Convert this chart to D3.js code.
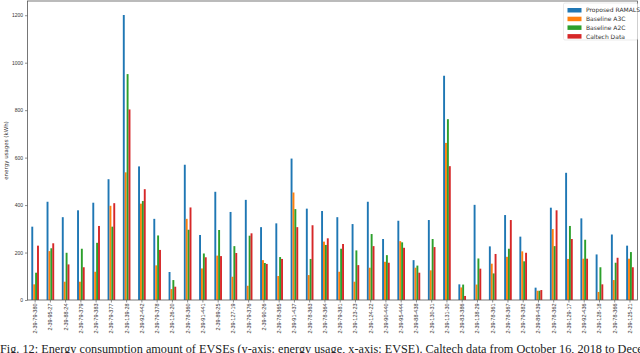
<!DOCTYPE html>
<html lang="en">
<head>
  <meta charset="UTF-8">
  <title>Energy consumption of EVSEs</title>
  <script src="https://d3js.org/d3.v7.min.js"></script>
  <style>
    body {
      margin: 0;
      background: #fff;
      overflow: hidden;
    }
    svg {
      display: block;
      font-family: "DejaVu Sans", sans-serif;
    }
    .caption {
      font-family: "Liberation Serif", "DejaVu Serif", serif;
    }
  </style>
</head>
<body>

<svg width="640" height="353"></svg>

<script>
const stations = [
  "2-39-79-380", "2-39-95-27", "2-39-88-24", "2-39-79-379", "2-39-79-383",
  "2-39-79-377", "2-39-139-28", "2-39-92-442", "2-39-79-378", "2-39-126-20",
  "2-39-78-360", "2-39-91-441", "2-39-89-25", "2-39-127-19", "2-39-79-376",
  "2-39-90-26", "2-39-78-365", "2-39-91-437", "2-39-78-363", "2-39-78-364",
  "2-39-79-381", "2-39-123-23", "2-39-124-22", "2-39-90-440", "2-39-95-444",
  "2-39-88-438", "2-39-130-31", "2-39-131-30", "2-39-83-386", "2-39-138-29",
  "2-39-78-361", "2-39-78-367", "2-39-79-382", "2-39-89-439", "2-39-78-362",
  "2-39-129-17", "2-39-92-436", "2-39-128-18", "2-39-78-366", "2-39-125-21"
];

const seriesNames = ["Proposed RAMALS", "Baseline A3C", "Baseline A2C", "Caltech Data"];
const seriesColors = ["#1f77b4", "#ff7f0e", "#2ca02c", "#d62728"];

const ramals = [
  309, 414, 349, 378, 410, 509, 1201, 563, 342, 118,
  570, 274, 456, 371, 422, 307, 323, 596, 385, 375,
  349, 320, 414, 257, 334, 168, 337, 945, 66, 401,
  226, 358, 267, 52, 389, 536, 344, 192, 276, 229
];
const a3c = [
  66, 206, 77, 77, 119, 397, 538, 406, 146, 46,
  342, 133, 187, 98, 60, 168, 101, 453, 105, 246,
  119, 77, 136, 161, 248, 136, 125, 662, 53, 65,
  153, 182, 205, 39, 299, 173, 174, 34, 84, 174
];
const a2c = [
  115, 218, 199, 216, 241, 309, 952, 417, 272, 84,
  296, 196, 295, 227, 271, 156, 181, 383, 173, 232,
  216, 209, 278, 189, 243, 145, 257, 762, 65, 175,
  112, 216, 163, 39, 227, 312, 254, 138, 157, 202
];
const caltech = [
  229, 239, 150, 138, 312, 408, 803, 467, 211, 56,
  390, 180, 185, 198, 281, 152, 173, 307, 315, 260,
  236, 147, 227, 157, 220, 115, 223, 564, 17, 132,
  194, 337, 199, 42, 378, 257, 174, 66, 178, 138
];

const yTicks = [0, 200, 400, 600, 800, 1000, 1200];

const seriesValues = [ramals, a3c, a2c, caltech];
const rows = stations.map((s, i) => ({
  station: s,
  values: seriesNames.map((name, k) => ({ name, value: seriesValues[k][i], color: seriesColors[k] }))
}));

const svg = d3.select("svg"),
      margin = {top: 1, right: 2.4, bottom: 53, left: 27.5},
      width = +svg.attr("width") - margin.left - margin.right,
      height = +svg.attr("height") - margin.top - margin.bottom;

const g = svg.append("g").attr("transform", `translate(${margin.left},${margin.top})`);

const x = d3.scaleBand().domain(stations).range([0, width]).padding(0);
const xs = d3.scaleBand().domain(seriesNames)
  .range([x.bandwidth() * 0.25, x.bandwidth() * 0.75]).padding(0);
const y = d3.scaleLinear().domain([0, 1260]).range([height, 0]);

// bars
const groups = g.selectAll(".grp")
  .data(rows)
  .enter().append("g")
  .attr("class", "grp")
  .attr("transform", d => `translate(${x(d.station)},0)`);

groups.selectAll("rect")
  .data(d => d.values)
  .enter().append("rect")
  .attr("x", d => xs(d.name))
  .attr("width", xs.bandwidth())
  .attr("y", d => y(d.value))
  .attr("height", d => height - y(d.value))
  .attr("fill", d => d.color);

// axes
const xAxis = g.append("g")
  .attr("transform", `translate(0,${height})`)
  .call(d3.axisBottom(x).tickSize(2.5).tickPadding(1.5).tickSizeOuter(0));
xAxis.selectAll("text")
  .attr("transform", "rotate(-90)")
  .attr("text-anchor", "end")
  .attr("x", -3.5)
  .attr("y", 0)
  .attr("dy", "0.35em")
  .style("font-size", "5.5px")
  .attr("fill", "#333");

const yAxis = g.append("g")
  .call(d3.axisLeft(y).tickValues(yTicks).tickFormat(d3.format("d"))
    .tickSize(2.5).tickPadding(2).tickSizeOuter(0));
yAxis.selectAll("text").style("font-size", "5px").attr("fill", "#333");

g.selectAll(".domain").remove();
g.selectAll(".tick line").attr("stroke", "#444").attr("stroke-width", 0.6);

// frame
g.append("rect")
  .attr("x", 0).attr("y", 0)
  .attr("width", width).attr("height", height)
  .attr("fill", "none")
  .attr("stroke", "#555")
  .attr("stroke-width", 0.8);

// y label
svg.append("text")
  .attr("transform", "rotate(-90)")
  .attr("x", -(margin.top + height / 2))
  .attr("y", 8)
  .attr("text-anchor", "middle")
  .style("font-size", "5.5px")
  .attr("fill", "#333")
  .text("energy usages (kWh)");

// legend
const legend = svg.append("g").attr("transform", "translate(563.5,3)");
legend.append("rect")
  .attr("width", 74)
  .attr("height", 37)
  .attr("rx", 1.5)
  .attr("fill", "#fff")
  .attr("stroke", "#ddd")
  .attr("stroke-width", 0.6);

seriesNames.forEach((name, i) => {
  const item = legend.append("g").attr("transform", `translate(4,${5 + i * 8.7})`);
  item.append("rect")
    .attr("width", 14)
    .attr("height", 4.5)
    .attr("fill", seriesColors[i]);
  item.append("text")
    .attr("x", 18.5)
    .attr("y", 2.3)
    .attr("dy", "0.35em")
    .style("font-size", "6px")
    .attr("fill", "#333")
    .text(name);
});

// caption, partly below the page edge as in the source
svg.append("text")
  .attr("class", "caption")
  .attr("x", 0)
  .attr("y", 353)
  .attr("textLength", 668)
  .attr("lengthAdjust", "spacingAndGlyphs")
  .style("font-size", "12.5px")
  .attr("fill", "#222")
  .text("Fig. 12: Energy consumption amount of EVSEs (y-axis: energy usage, x-axis: EVSE). Caltech data from October 16, 2018 to December");
</script>
</body>
</html>
